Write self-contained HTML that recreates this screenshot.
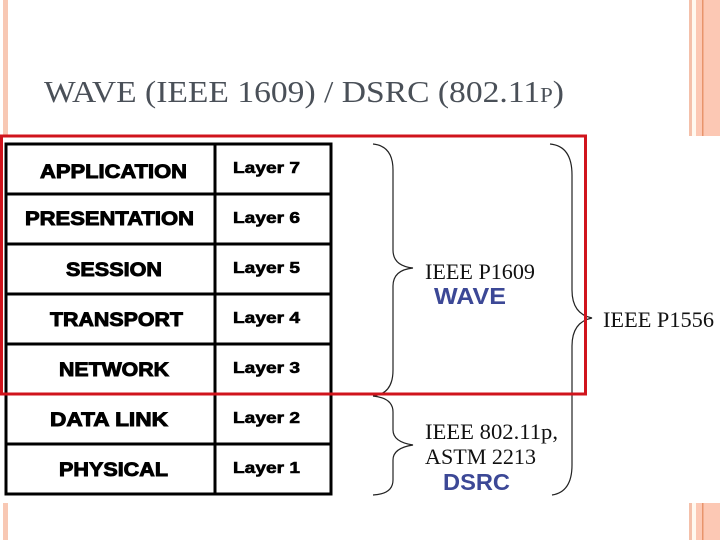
<!DOCTYPE html>
<html><head><meta charset="utf-8"><style>
html,body{margin:0;padding:0;background:#fff;}
svg{display:block;}
</style></head><body>
<svg width="720" height="540" viewBox="0 0 720 540" xmlns="http://www.w3.org/2000/svg">
<rect x="0" y="0" width="720" height="540" fill="#fff"/>
<rect x="3" y="0" width="5" height="135" fill="#f8c8b4"/>
<rect x="3" y="503" width="5" height="37" fill="#f8c8b4"/>
<rect x="689" y="0" width="3" height="136" fill="#f4c0aa"/>
<rect x="692" y="0" width="4" height="136" fill="#fff8ef"/>
<rect x="696" y="0" width="24" height="136" fill="#fcc8b4"/>
<rect x="702" y="0" width="1.5" height="136" fill="#e8946c"/>
<rect x="689" y="503" width="3" height="37" fill="#f4c0aa"/>
<rect x="692" y="503" width="4" height="37" fill="#fff8ef"/>
<rect x="696" y="503" width="24" height="37" fill="#fcc8b4"/>
<rect x="702" y="503" width="1.5" height="37" fill="#e8946c"/>
<text x="44" y="102" font-family="Liberation Serif, serif" font-size="31" fill="#4a5058" textLength="520" lengthAdjust="spacingAndGlyphs">WAVE (IEEE 1609) / DSRC (802.11<tspan font-size="21">P</tspan>)</text>
<g stroke="#000" stroke-width="3" fill="none">
<rect x="6" y="144" width="325" height="350"/>
<line x1="215" y1="144" x2="215" y2="494"/>
<line x1="6" y1="194" x2="331" y2="194"/>
<line x1="6" y1="244" x2="331" y2="244"/>
<line x1="6" y1="294" x2="331" y2="294"/>
<line x1="6" y1="344" x2="331" y2="344"/>
<line x1="6" y1="394" x2="331" y2="394"/>
<line x1="6" y1="444" x2="331" y2="444"/>
</g>
<g font-family="Liberation Sans, sans-serif" font-weight="bold" fill="#000" stroke="#000" stroke-width="0.9" lengthAdjust="spacingAndGlyphs">
<g font-size="19">
<text x="40" y="178" textLength="147" lengthAdjust="spacingAndGlyphs">APPLICATION</text>
<text x="25" y="225" textLength="169" lengthAdjust="spacingAndGlyphs">PRESENTATION</text>
<text x="66" y="276" textLength="96" lengthAdjust="spacingAndGlyphs">SESSION</text>
<text x="50" y="326" textLength="133" lengthAdjust="spacingAndGlyphs">TRANSPORT</text>
<text x="59" y="376" textLength="110" lengthAdjust="spacingAndGlyphs">NETWORK</text>
<text x="50" y="426" textLength="118" lengthAdjust="spacingAndGlyphs">DATA LINK</text>
<text x="59" y="476" textLength="109" lengthAdjust="spacingAndGlyphs">PHYSICAL</text>
</g>
<g font-size="16" stroke-width="0.6">
<text x="233" y="173" textLength="67" lengthAdjust="spacingAndGlyphs">Layer 7</text>
<text x="233" y="223" textLength="67" lengthAdjust="spacingAndGlyphs">Layer 6</text>
<text x="233" y="273" textLength="67" lengthAdjust="spacingAndGlyphs">Layer 5</text>
<text x="233" y="323" textLength="67" lengthAdjust="spacingAndGlyphs">Layer 4</text>
<text x="233" y="373" textLength="67" lengthAdjust="spacingAndGlyphs">Layer 3</text>
<text x="233" y="423" textLength="67" lengthAdjust="spacingAndGlyphs">Layer 2</text>
<text x="233" y="473" textLength="67" lengthAdjust="spacingAndGlyphs">Layer 1</text>
</g>
</g>
<g stroke="#222" stroke-width="1.2" fill="none">
<path d="M373 144 Q393 146 393 170 L393 250 Q393 266 413 268 Q393 270 393 286 L393 370 Q393 394 373 396"/>
<path d="M373 396 Q393 398 393 412 L393 430 Q393 442 413 445 Q393 448 393 460 L393 480 Q393 494 373 495"/>
<path d="M550 144 Q572 146 572 175 L572 290 Q572 314 592 318 Q572 322 572 346 L572 465 Q572 492 552 495"/>
</g>
<g font-family="Liberation Serif, serif" font-size="22" fill="#111">
<text x="425" y="279" textLength="110" lengthAdjust="spacingAndGlyphs">IEEE P1609</text>
<text x="603" y="327" textLength="111" lengthAdjust="spacingAndGlyphs">IEEE P1556</text>
<text x="425" y="439" textLength="133" lengthAdjust="spacingAndGlyphs">IEEE 802.11p,</text>
<text x="425" y="464" textLength="111" lengthAdjust="spacingAndGlyphs">ASTM 2213</text>
</g>
<g font-family="Liberation Sans, sans-serif" font-weight="bold" font-size="23" fill="#3c4896">
<text x="434" y="304" textLength="72" lengthAdjust="spacingAndGlyphs">WAVE</text>
<text x="443" y="490" textLength="67" lengthAdjust="spacingAndGlyphs">DSRC</text>
</g>
<rect x="1.5" y="136" width="584" height="258" fill="none" stroke="#d0141c" stroke-width="3"/>
</svg>
</body></html>
